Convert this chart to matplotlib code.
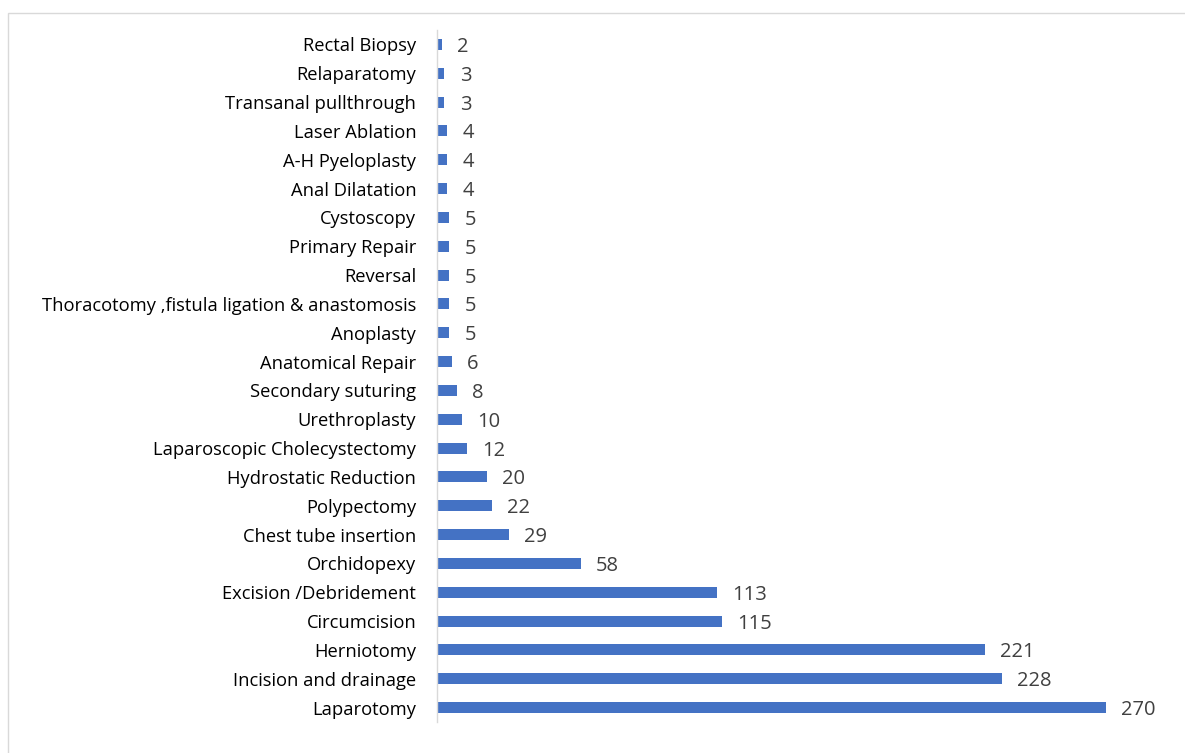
import matplotlib.pyplot as plt
from matplotlib.patches import Rectangle

# Procedures, listed bottom to top as drawn
procedures = [
    "Laparotomy", "Incision and drainage", "Herniotomy", "Circumcision",
    "Excision /Debridement", "Orchidopexy", "Chest tube insertion", "Polypectomy",
    "Hydrostatic Reduction", "Laparoscopic Cholecystectomy", "Urethroplasty",
    "Secondary suturing", "Anatomical Repair", "Anoplasty",
    "Thoracotomy ,fistula ligation & anastomosis", "Reversal", "Primary Repair",
    "Cystoscopy", "Anal Dilatation", "A-H Pyeloplasty", "Laser Ablation",
    "Transanal pullthrough", "Relaparatomy", "Rectal Biopsy",
]
counts = [270, 228, 221, 115, 113, 58, 29, 22, 20, 12, 10, 8, 6, 5, 5, 5, 5, 5,
          4, 4, 4, 3, 3, 2]

fig = plt.figure(figsize=(11.85, 7.53), dpi=100)
fig.patches.append(Rectangle((8 / 1185, -0.01), 1.1, (753 - 13) / 753 + 0.01,
                             transform=fig.transFigure, fill=False,
                             edgecolor="#d9d9d9", linewidth=1))

ax = fig.add_axes([437 / 1185, 31 / 753, (1168 - 437) / 1185, 692 / 753])
ypos = range(len(procedures))
bars = ax.barh(ypos, counts, height=0.38, color="#4472C4")
vals = ax.bar_label(bars, labels=[str(c) for c in counts], padding=11,
                    fontsize=14.5, color="#404040", family="Open Sans")
for t in vals:
    t.set_verticalalignment("center_baseline")

ax.set_ylim(-0.5, len(procedures) - 0.5)
ax.set_xlim(0, 295)
ax.set_yticks(list(ypos))
ax.set_yticklabels(procedures, fontsize=13.2, family="Open Sans", color="#000000")
ax.tick_params(axis="y", length=0, pad=15)
ax.set_xticks([])
for side in ["top", "right", "bottom"]:
    ax.spines[side].set_visible(False)
ax.spines["left"].set_color("#d9d9d9")
ax.spines["left"].set_linewidth(1)

fig.savefig("out.png", dpi=100)
